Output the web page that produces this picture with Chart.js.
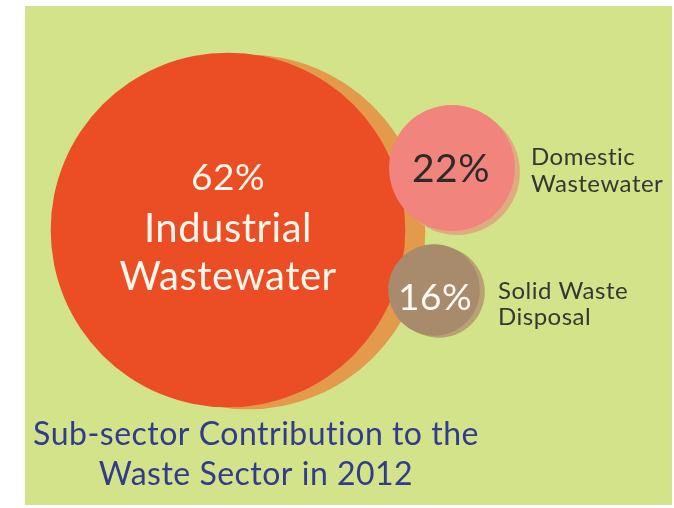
<!DOCTYPE html>
<html>
<head>
<meta charset="utf-8">
<script src="https://cdn.jsdelivr.net/npm/chart.js@4/dist/chart.umd.min.js"></script>
<style>
    body { margin: 0; background: #ffffff; }
    #wrap { width: 674px; height: 508px; }
</style>
</head>
<body>
<div id="wrap"><canvas id="wasteChart" width="674" height="508"></canvas></div>
<script>
// data
const categories = ['Industrial Wastewater', 'Domestic Wastewater', 'Solid Waste Disposal'];
const shares = [62, 22, 16];
const titleLines = ['Sub-sector Contribution to the', 'Waste Sector in 2012'];

// layout of the bubbles (hidden pixel-like scale)
const bubbleX = [228, 452, 434];
const bubbleY = [230, 168, 290];
const shadowDX = [20, 5, 5];
const shadowDY = [2, 4, 2];
const radiusPerPoint = 2.86;

const fillColors = ['#eb4e24', '#f1847d', '#a88a6c'];
const shadowColors = ['#e39a4b', '#dfac7f', '#b8a274'];

const mainPoints = shares.map((v, i) => ({ x: bubbleX[i], y: bubbleY[i], v: v }));
const shadowPoints = shares.map((v, i) => ({ x: bubbleX[i] + shadowDX[i], y: bubbleY[i] + shadowDY[i], v: v }));

const backgroundPlugin = {
    id: 'greenPanel',
    beforeDraw(chart) {
        const ctx = chart.ctx;
        ctx.save();
        ctx.fillStyle = '#ffffff';
        ctx.fillRect(0, 0, chart.width, chart.height);
        ctx.fillStyle = '#d3e389';
        ctx.fillRect(25, 6, 647, 499);
        ctx.restore();
    }
};

const labelPlugin = {
    id: 'bubbleLabels',
    afterDatasetsDraw(chart) {
        const ctx = chart.ctx;
        const pts = chart.getDatasetMeta(0).data;
        ctx.save();
        ctx.textBaseline = 'alphabetic';
        // a little spacing also keeps Lato from joining "ti"
        ctx.letterSpacing = '0.5px';

        // big bubble
        let p = pts[0];
        ctx.textAlign = 'center';
        ctx.fillStyle = '#fff6ee';
        ctx.font = '37px Lato';
        ctx.fillText(shares[0] + '%', p.x, p.y - 40);
        ctx.font = '40px Lato';
        ctx.fillText('Industrial', p.x, p.y + 12);
        ctx.fillText('Wastewater', p.x, p.y + 60);

        // domestic
        p = pts[1];
        ctx.fillStyle = '#2e2a2a';
        ctx.font = '39px Lato';
        ctx.fillText(shares[1] + '%', p.x - 1, p.y + 14);
        ctx.textAlign = 'left';
        ctx.fillStyle = '#363633';
        ctx.font = '24px Lato';
        ctx.fillText('Domestic', 531, 165);
        ctx.fillText('Wastewater', 531, 192);

        // solid waste
        p = pts[2];
        ctx.textAlign = 'center';
        ctx.fillStyle = '#fffaf2';
        ctx.font = '37px Lato';
        ctx.fillText(shares[2] + '%', p.x + 1, p.y + 20);
        ctx.textAlign = 'left';
        ctx.fillStyle = '#363633';
        ctx.font = '24px Lato';
        ctx.fillText('Solid Waste', 498, 299);
        ctx.fillText('Disposal', 498, 325);

        // title
        ctx.textAlign = 'center';
        ctx.fillStyle = '#313c8c';
        ctx.font = '32px Lato';
        ctx.fillText(titleLines[0], 256, 445);
        ctx.fillText(titleLines[1], 256, 485);
        ctx.restore();
    }
};

const chart = new Chart(document.getElementById('wasteChart'), {
    type: 'bubble',
    data: {
        labels: categories,
        datasets: [{
            label: 'Share',
            data: mainPoints,
            backgroundColor: fillColors,
            borderWidth: 0,
            radius: (c) => c.raw ? c.raw.v * radiusPerPoint : 0,
            hoverRadius: 0,
            clip: false,
            order: 0
        },
        {
            label: 'Shadow',
            data: shadowPoints,
            backgroundColor: shadowColors,
            borderWidth: 0,
            radius: (c) => c.raw ? c.raw.v * radiusPerPoint : 0,
            hoverRadius: 0,
            clip: false,
            order: 1
        }]
    },
    options: {
        responsive: false,
        animation: false,
        events: [],
        layout: { padding: 0, autoPadding: false },
        scales: {
            x: { type: 'linear', display: false, min: 0, max: 674 },
            y: { type: 'linear', display: false, min: 0, max: 508, reverse: true }
        },
        plugins: {
            legend: { display: false },
            tooltip: { enabled: false }
        }
    },
    plugins: [backgroundPlugin, labelPlugin]
});
</script>
</body>
</html>
